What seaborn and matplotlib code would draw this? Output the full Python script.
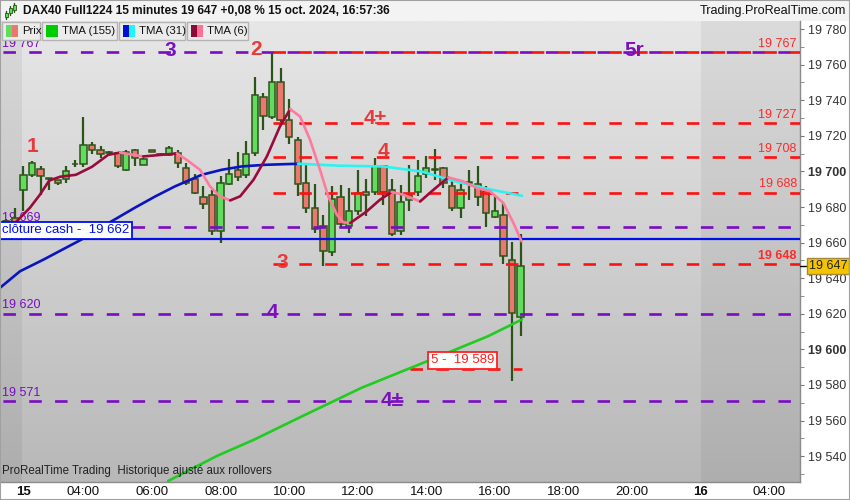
import numpy as np
import seaborn as sns
import matplotlib
matplotlib.use("Agg")
from matplotlib import pyplot as plt
from matplotlib.colors import LinearSegmentedColormap
from matplotlib.patches import Rectangle
import matplotlib.transforms as mtransforms

# DAX40 Full1224, 15 minute bars of 15 oct. 2024 (first bar 01:45, last 16:45)
bar_hours = 1.75 + 0.25 * np.arange(61)

opens = [19670.5, 19674.0, 19689.3, 19697.7, 19701.5, 19695.8, 19694.9, 19695.7, 19703.9, 19704.1,
         19714.9, 19712.1, 19710.5, 19710.3, 19700.9, 19712.1, 19703.7, 19712.1, 19709.3, 19709.1,
         19710.6, 19701.9, 19695.9, 19685.6, 19686.7, 19666.3, 19692.9, 19700.9, 19698.1, 19710.6,
         19741.7, 19730.8, 19750.1, 19729.0, 19717.7, 19693.5, 19679.4, 19669.5, 19654.5, 19685.6,
         19669.1, 19677.5, 19688.2, 19688.2, 19702.8, 19689.3, 19666.4, 19684.1, 19688.2, 19698.5,
         19700.7, 19701.9, 19692.0, 19679.4, 19693.3, 19693.1, 19688.8, 19674.2, 19675.7, 19650.4,
         19618.3]
highs = [19673.0, 19679.6, 19703.2, 19705.6, 19702.8, 19696.2, 19695.3, 19702.8, 19706.5, 19730.5,
         19716.8, 19714.4, 19711.5, 19710.7, 19712.1, 19712.5, 19707.3, 19712.2, 19710.5, 19714.0,
         19712.1, 19704.7, 19698.7, 19692.0, 19689.7, 19697.2, 19706.9, 19710.8, 19717.2, 19753.2,
         19744.3, 19767.3, 19758.0, 19740.6, 19719.6, 19703.7, 19692.9, 19675.7, 19691.6, 19692.5,
         19690.7, 19700.9, 19695.7, 19707.5, 19703.5, 19695.7, 19692.5, 19703.7, 19706.5, 19708.8,
         19712.5, 19702.5, 19694.4, 19693.5, 19700.9, 19702.8, 19691.6, 19686.0, 19682.2, 19660.1,
         19665.0]
lows = [19669.0, 19670.0, 19677.5, 19696.8, 19686.9, 19689.7, 19692.5, 19693.5, 19702.2, 19702.2,
        19709.9, 19707.6, 19709.0, 19702.0, 19700.0, 19702.8, 19703.5, 19710.7, 19709.0, 19708.5,
        19701.9, 19692.5, 19687.5, 19678.9, 19664.5, 19659.8, 19692.5, 19694.4, 19696.3, 19708.4,
        19723.4, 19729.5, 19728.0, 19715.5, 19686.0, 19676.6, 19665.4, 19647.1, 19652.3, 19668.2,
        19665.4, 19675.7, 19675.1, 19686.9, 19681.3, 19663.5, 19664.5, 19677.5, 19686.3, 19696.4,
        19695.3, 19690.8, 19677.5, 19673.8, 19684.1, 19680.3, 19668.8, 19674.0, 19648.2, 19582.2,
        19607.4]
closes = [19672.3, 19671.2, 19698.1, 19704.7, 19697.2, 19696.0, 19693.5, 19700.5, 19704.3, 19714.9,
          19712.1, 19709.9, 19710.3, 19703.2, 19711.0, 19707.6, 19707.0, 19710.8, 19710.0, 19713.4,
          19704.7, 19693.5, 19687.9, 19681.5, 19666.3, 19693.5, 19698.7, 19696.8, 19709.7, 19743.0,
          19731.4, 19750.1, 19729.0, 19719.6, 19692.9, 19679.4, 19667.7, 19655.1, 19684.7, 19670.6,
          19677.5, 19687.9, 19686.9, 19702.8, 19688.2, 19664.9, 19683.0, 19686.9, 19697.2, 19701.9,
          19701.1, 19693.5, 19679.4, 19689.7, 19693.7, 19685.6, 19676.6, 19677.9, 19652.3, 19620.5,
          19646.7]

tma155_hours = [6.47, 7.89, 9.00, 10.32, 12.12, 14.16, 15.80, 16.79]
tma155_values = [19526.1, 19540.1, 19549.5, 19561.9, 19578.5, 19594.4, 19607.4, 19616.8]

tma31_hours = [1.566, 2.15, 2.83, 3.99, 4.77, 5.50, 6.09, 6.67, 7.45, 8.03, 8.62, 9.29, 10.26,
               11.48, 12.74, 13.87, 14.84, 15.81, 16.79]
tma31_values = [19634.6, 19643.9, 19650.4, 19662.2, 19671.4, 19679.6, 19685.9, 19691.6, 19698.1,
                19700.9, 19702.8, 19703.7, 19704.3, 19703.2, 19702.8, 19699.9, 19694.4, 19690.1, 19686.3]

tma6_hours = [2.05, 2.44, 2.73, 3.00, 3.32, 3.78, 4.25, 4.72, 5.07, 5.74, 6.73, 7.01, 7.40, 7.69,
              7.98, 8.28, 8.57, 8.96, 9.35, 9.73, 10.03, 10.32, 10.61, 10.90, 11.14, 11.39, 11.58,
              11.78, 12.26, 12.65, 12.99, 13.33, 13.82, 14.21, 14.64, 15.08, 15.47, 15.86, 16.25,
              16.54, 16.78]
tma6_values = [19671.9, 19679.6, 19686.9, 19694.8, 19697.0, 19698.1, 19702.6, 19709.3, 19710.6,
               19708.4, 19710.1, 19706.5, 19700.9, 19691.6, 19686.0, 19683.7, 19686.0, 19695.3,
               19708.4, 19725.2, 19735.0, 19730.8, 19717.7, 19700.9, 19686.0, 19675.7, 19671.4,
               19671.0, 19677.5, 19684.1, 19688.4, 19686.9, 19683.1, 19689.7, 19696.6, 19694.4,
               19690.7, 19688.8, 19682.2, 19671.0, 19660.7]

purple_levels = [19767, 19669, 19620, 19571]
purple_texts = ["19 767", "19 669", "19 620", "19 571"]
red_levels = [19767, 19727, 19708, 19688, 19648]
red_texts = ["19 767", "19 727", "19 708", "19 688", "19 648"]
red_start = 9.53
cash_close = 19662
level5 = 19589
level5_span = [13.53, 16.79]
last_price = 19647

# big level marks: text, hour, price, colour
marks = [("1", 2.50, 19713.8, "red"), ("3", 6.52, 19768.0, "purple"), ("2", 9.03, 19768.5, "red"),
         ("4±", 12.50, 19730.0, "red"), ("4", 12.74, 19711.0, "red"), ("3", 9.79, 19649.0, "red"),
         ("4", 9.50, 19620.5, "purple"), ("4±", 13.00, 19571.5, "purple"), ("5r", 20.06, 19768.0, "purple")]

x_tick_hours = [2.25, 4, 6, 8, 10, 12, 14, 16, 18, 20, 22, 24]
x_tick_labels = ["15", "04:00", "06:00", "08:00", "10:00", "12:00", "14:00", "16:00", "18:00",
                 "20:00", "16", "04:00"]
y_ticks = list(range(19540, 19781, 20))

sns.set_style("white")
plt.rcParams["font.family"] = ["Liberation Sans", "DejaVu Sans"]
plt.rcParams["lines.scale_dashes"] = False

PURPLE = "#7a0cc4"
RED = "#ff1010"
EDGE = "#2c5418"
W, H = 850, 500

fig = plt.figure(figsize=(8.5, 5), dpi=100)
fig.patch.set_facecolor("white")


def fx(px):
    return px / W


def fy(py):
    return 1 - py / H


ax = fig.add_axes([0, fy(482), fx(800), (482 - 21) / H])
x0, x1 = 1.566, 24.90
y0, y1 = 19525.5, 19784.5
blend = mtransforms.blended_transform_factory(ax.transAxes, ax.transData)

# background gradient and off-session shading
bg = LinearSegmentedColormap.from_list("bg", ["#e7e7e7", "#b8b8b8"])
ax.imshow(np.linspace(0, 1, 256).reshape(-1, 1), cmap=bg, extent=[x0, x1, y0, y1],
          aspect="auto", zorder=0)
ax.axvspan(x0, 2.2, color="black", alpha=0.055, lw=0, zorder=0.5)
ax.axvspan(22.0, x1, color="black", alpha=0.05, lw=0, zorder=0.5)

# candles
colors = ["#62dc5e" if c >= o else "#ea786f" for o, c in zip(opens, closes)]
bottoms = np.minimum(opens, closes)
heights = np.maximum(np.abs(np.subtract(closes, opens)), 0.5)
ax.vlines(bar_hours, lows, highs, color=EDGE, lw=1.6, zorder=3)
ax.bar(bar_hours, heights, bottom=bottoms, width=0.185, color=colors, edgecolor=EDGE,
       linewidth=1.1, zorder=3.5)

# horizontal levels
dash = (9.0, 9.6)
for lvl, txt in zip(purple_levels, purple_texts):
    ax.plot([x0, x1], [lvl, lvl], color=PURPLE, lw=1.9, linestyle=(16.5, dash), zorder=4)
    ax.text(0.003, lvl + 1.3, txt, transform=blend, color=PURPLE, fontsize=9,
            ha="left", va="bottom", zorder=2.5)
for lvl, txt in zip(red_levels, red_texts):
    ax.plot([red_start, x1], [lvl, lvl], color=RED, lw=1.9, linestyle=(0, dash), zorder=4.2)
    ax.text(0.996, lvl + 1.3, txt, transform=blend, color="#ff2a2a", fontsize=9,
            ha="right", va="bottom", zorder=6,
            fontweight="bold" if lvl == 19648 else "normal")
ax.plot(level5_span, [level5, level5], color=RED, lw=1.9, linestyle=(0, dash), zorder=4.2)
ax.plot([x0, x1], [cash_close, cash_close], color="#0010e8", lw=1.6, zorder=4.3)


def colored_line(hours, values, up, down, width):
    hours = np.asarray(hours)
    values = np.asarray(values)
    rising = np.diff(values) >= 0
    start = 0
    for k in range(1, len(rising) + 1):
        if k == len(rising) or rising[k] != rising[start]:
            seg = slice(start, k + 1)
            sns.lineplot(x=hours[seg], y=values[seg], ax=ax, color=up if rising[start] else down,
                         lw=width, sort=False, estimator=None, legend=False, zorder=5)
            start = k


sns.lineplot(x=tma155_hours, y=tma155_values, ax=ax, color="#1fcc1f", lw=1.9, sort=False,
             estimator=None, legend=False, zorder=5)
colored_line(tma31_hours, tma31_values, "#0a14c0", "#2ef2f2", 1.9)
colored_line(tma6_hours, tma6_values, "#9a0a3a", "#ff7a9e", 1.9)

# level marks
mark_colors = {"red": "#e83a3a", "purple": "#7a10c0"}
for txt, hx, py, col in marks:
    ax.text(hx, py, txt, color=mark_colors[col], fontsize=15, fontweight="bold",
            ha="center", va="center", zorder=6)

ax.text(0.003, cash_close + 1.6, "clôture cash -  19 662", transform=blend, color="#0010e8",
        fontsize=9.5, ha="left", va="bottom", zorder=7,
        bbox=dict(boxstyle="square,pad=0.18", fc="white", ec="#0010e8", lw=1.3))
ax.text(14.13, level5 + 1.6, "5 -  19 589", color="#ff2020", fontsize=9.5, ha="left",
        va="bottom", zorder=7,
        bbox=dict(boxstyle="square,pad=0.18", fc="white", ec="#ff2020", lw=1.3))
ax.text(0.003, 19531.5, "ProRealTime Trading  Historique ajusté aux rollovers", transform=blend,
        fontsize=8.3, color="#222222", ha="left", va="center", zorder=6)

# axes
ax.set_xlim(x0, x1)
ax.set_ylim(y0, y1)
ax.set_xticks(x_tick_hours)
ax.set_xticklabels(x_tick_labels, fontsize=9.5)
for lab in ax.get_xticklabels():
    if lab.get_text() in ("15", "16"):
        lab.set_fontweight("bold")
ax.tick_params(axis="x", length=0, pad=3, labelcolor="#111111")
ax.yaxis.tick_right()
ax.set_yticks(y_ticks)
ax.set_yticklabels([f"{v:,}".replace(",", " ") for v in y_ticks], fontsize=9)
for lab in ax.get_yticklabels():
    if lab.get_text() in ("19 700", "19 600"):
        lab.set_fontweight("bold")
ax.set_yticks(list(range(19530, 19781, 20)), minor=True)
ax.tick_params(axis="y", which="major", direction="out", length=3, color="#777777",
               pad=3, labelcolor="#333333")
ax.tick_params(axis="y", which="minor", direction="out", length=3, color="#777777")
for side in ("top", "left"):
    ax.spines[side].set_visible(False)
for side in ("right", "bottom"):
    ax.spines[side].set_color("#8a8a8a")
    ax.spines[side].set_linewidth(1)

# last price tag
ax.plot([1.0, 1.011], [last_price, last_price], transform=blend, color="black", lw=1,
        clip_on=False, zorder=12)
ax.text(1.011, last_price, "19 647", transform=blend, fontsize=9, ha="left", va="center",
        color="#222222", zorder=12, clip_on=False,
        bbox=dict(boxstyle="square,pad=0.15", fc="#f5c400", ec="#a08a40", lw=1))

# title bar
fig.add_artist(Rectangle((0, fy(21)), 1, 21 / H, transform=fig.transFigure, fc="#f3f3f3",
                         ec="none", zorder=0))
for cx, top, bot, btop, bbot in [(6, 11, 19, 13, 17), (10, 6, 15, 8, 13), (14, 3, 12, 5, 10)]:
    fig.add_artist(plt.Line2D([fx(cx), fx(cx)], [fy(top), fy(bot)], color=EDGE, lw=1,
                              transform=fig.transFigure, zorder=11))
    fig.add_artist(Rectangle((fx(cx - 1.5), fy(bbot)), fx(3), (bbot - btop) / H,
                             transform=fig.transFigure, fc="#62dc5e", ec=EDGE, lw=0.6,
                             zorder=12))
fig.text(fx(23), fy(11), "DAX40 Full1224 15 minutes 19 647 +0,08 % 15 oct. 2024, 16:57:36",
         fontsize=8.6, fontweight="bold", ha="left", va="center", color="#111111", zorder=11)
fig.text(fx(846), fy(11), "Trading.ProRealTime.com", fontsize=9.1, ha="right", va="center",
         color="#111111", zorder=11)

# legend row
legend_items = [("Prix", 2, 40, ("#62dc5e", "#ea786f")),
                ("TMA (155)", 42, 117, ("#00cc00", "#00cc00")),
                ("TMA (31)", 119, 185, ("#0010d0", "#20f4ff")),
                ("TMA (6)", 187, 248, ("#8c0a38", "#ff6f96"))]
for label, left, right, (c1, c2) in legend_items:
    fig.add_artist(Rectangle((fx(left), fy(40)), fx(right - left), 18 / H,
                             transform=fig.transFigure, fc="#ebebeb", ec="#b4b4b4", lw=1,
                             zorder=10))
    fig.add_artist(Rectangle((fx(left + 4), fy(37)), fx(6), 12 / H, transform=fig.transFigure,
                             fc=c1, ec="none", zorder=11))
    fig.add_artist(Rectangle((fx(left + 10), fy(37)), fx(6), 12 / H, transform=fig.transFigure,
                             fc=c2, ec="none", zorder=11))
    fig.text(fx(left + 20), fy(31), label, fontsize=8.2, ha="left", va="center",
             color="#111111", zorder=12)

fig.add_artist(Rectangle((0, 0), 1, 1, transform=fig.transFigure, fill=False, ec="#a0a0a0",
                         lw=1.5, zorder=20))

fig.savefig("out.png", dpi=100)
